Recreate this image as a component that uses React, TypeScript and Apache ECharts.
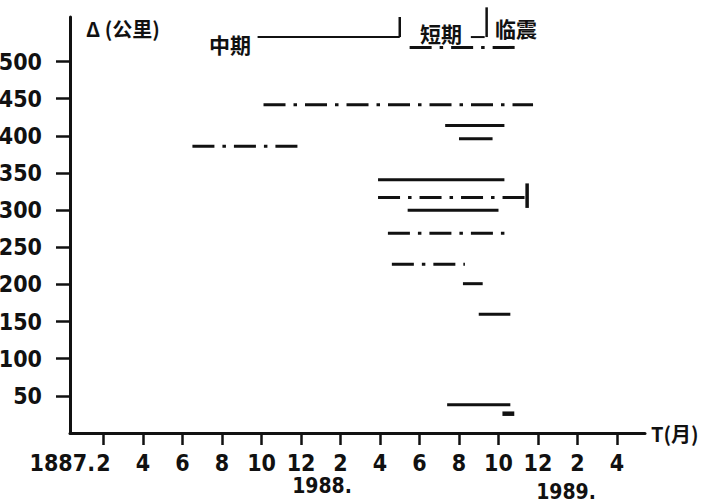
import React, { useEffect, useRef } from "react";
import * as echarts from "echarts";

// Month index: Jan 1987 = 1, Dec 1987 = 12, Feb 1988 = 14, ... Apr 1989 = 28
const tickMonths = [2, 4, 6, 8, 10, 12, 14, 16, 18, 20, 22, 24, 26, 28];
const tickLabels = ["2", "4", "6", "8", "10", "12", "2", "4", "6", "8", "10", "12", "2", "4"];
const deltaTicks = [50, 100, 150, 200, 250, 300, 350, 400, 450, 500];

// Solid segments (Δ in km, start / end month)
const solidDelta = [414, 396, 341, 300, 201, 160, 38];
const solidStart = [19.3, 20.0, 15.9, 17.4, 20.2, 21.0, 19.4];
const solidEnd = [22.3, 21.7, 22.3, 22.0, 21.2, 22.6, 22.6];

// Short thick mark
const stubDelta = [26];
const stubStart = [22.2];
const stubEnd = [22.8];

// Dash-dot segments
const dashDelta = [519, 442, 386, 317, 269, 227];
const dashStart = [17.5, 10.1, 6.5, 15.9, 16.4, 16.6];
const dashEnd = [22.9, 23.75, 12.1, 23.45, 22.5, 20.3];

// Arrow hook at the end of the 317 km line
const hookMonth = [23.45, 23.45];
const hookDelta = [336, 303];

// Period bracket: 中期 / 短期 / 临震
const periodDelta = 533;
const midTerm = [9.8, 17.0];
const shortStub = [20.6, 21.3];
const dividerMonths = [17.0, 21.4];
const dividerTops = [560, 573];

const NUM_FONT = '"Liberation Sans Narrow", "DejaVu Sans Condensed", "Liberation Sans", sans-serif';
const CJK_FONT = '"Noto Sans CJK SC", "Noto Sans CJK JP", sans-serif';
const INK = "#111";

export default function App() {
  const ref = useRef<HTMLDivElement>(null);
  useEffect(() => {
    if (!ref.current) return;
    const chart = echarts.init(ref.current, undefined, { renderer: "svg" });
    const series: any[] = [];
    const lineSeries = (data: number[][], width: number, type: any) => ({
      type: "line",
      data,
      showSymbol: false,
      symbol: "none",
      clip: false,
      silent: true,
      lineStyle: { color: INK, width, type, cap: "butt" },
    });
    solidDelta.forEach((d, i) =>
      series.push(lineSeries([[solidStart[i], d], [solidEnd[i], d]], 3, "solid"))
    );
    stubDelta.forEach((d, i) =>
      series.push(lineSeries([[stubStart[i], d], [stubEnd[i], d]], 4.5, "solid"))
    );
    dashDelta.forEach((d, i) =>
      series.push(lineSeries([[dashStart[i], d], [dashEnd[i], d]], 3, [22, 8, 3.5, 8]))
    );
    series.push(lineSeries(hookMonth.map((m, i) => [m, hookDelta[i]]), 3.5, "solid"));
    series.push(lineSeries([[midTerm[0], periodDelta], [midTerm[1], periodDelta]], 2, "solid"));
    series.push(lineSeries([[shortStub[0], periodDelta], [shortStub[1], periodDelta]], 2, "solid"));
    dividerMonths.forEach((m, i) =>
      series.push(lineSeries([[m, periodDelta], [m, dividerTops[i]]], 2.5, "solid"))
    );

    const option: any = {
      animation: false,
      backgroundColor: "#fff",
      grid: { left: 70, right: 67, top: 17, bottom: 70, outerBoundsMode: "none" },
      xAxis: {
        type: "value",
        min: 0.3,
        max: 29.42,
        name: "T(月)",
        nameLocation: "end",
        nameGap: 6,
        nameMoveOverlap: false,
        nameTextStyle: { fontFamily: CJK_FONT, fontWeight: "bold", fontSize: 20, color: INK },
        axisLine: { show: true, lineStyle: { color: INK, width: 3 } },
        axisTick: { show: true, length: 12, customValues: tickMonths, lineStyle: { color: INK, width: 2.5 } },
        axisLabel: {
          customValues: tickMonths,
          margin: 18,
          fontFamily: NUM_FONT,
          fontWeight: "bold",
          fontSize: 23,
          color: INK,
          formatter: (v: number) => {
            const i = tickMonths.indexOf(Math.round(v));
            return i >= 0 ? tickLabels[i] : "";
          },
        },
        splitLine: { show: false },
      },
      yAxis: {
        type: "value",
        min: 0,
        max: 560,
        axisLine: { show: true, lineStyle: { color: INK, width: 3 } },
        axisTick: { show: true, length: 14, customValues: deltaTicks, lineStyle: { color: INK, width: 2.5 } },
        axisLabel: {
          customValues: deltaTicks,
          margin: 28,
          fontFamily: NUM_FONT,
          fontWeight: "bold",
          fontSize: 23,
          color: INK,
        },
        splitLine: { show: false },
      },
      graphic: [
        { type: "text", left: 86, top: 18, style: { text: "Δ (公里)", fontFamily: CJK_FONT, fontWeight: "bold", fontSize: 20, fill: INK } },
        { type: "text", x: 230, y: 44, style: { text: "中期", fontFamily: CJK_FONT, fontWeight: "bold", fontSize: 21, fill: INK, align: "center", verticalAlign: "middle" } },
        { type: "text", x: 441, y: 33, style: { text: "短期", fontFamily: CJK_FONT, fontWeight: "bold", fontSize: 21, fill: INK, align: "center", verticalAlign: "middle" } },
        { type: "text", x: 516, y: 28, style: { text: "临震", fontFamily: CJK_FONT, fontWeight: "bold", fontSize: 21, fill: INK, align: "center", verticalAlign: "middle" } },
        { type: "text", x: 95, y: 451, style: { text: "1887.", fontFamily: NUM_FONT, fontWeight: "bold", fontSize: 23, fill: INK, align: "right", verticalAlign: "top" } },
        { type: "text", x: 322, y: 475, style: { text: "1988.", fontFamily: NUM_FONT, fontWeight: "bold", fontSize: 21, fill: INK, align: "center", verticalAlign: "top" } },
        { type: "text", x: 566, y: 481, style: { text: "1989.", fontFamily: NUM_FONT, fontWeight: "bold", fontSize: 21, fill: INK, align: "center", verticalAlign: "top" } },
      ],
      series,
    };
    chart.setOption(option);
    return () => chart.dispose();
  }, []);
  return (
    <div
      ref={ref}
      style={{ position: "fixed", left: 0, top: 0, width: 712, height: 503, background: "#fff" }}
    />
  );
}
